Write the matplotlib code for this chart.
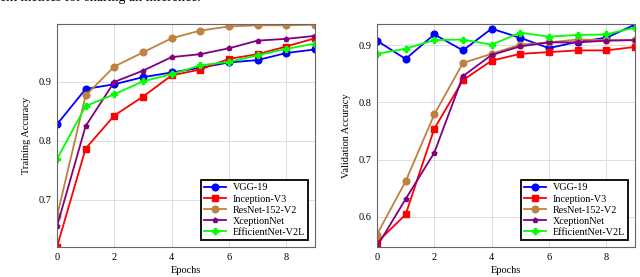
import numpy as np
import matplotlib.pyplot as plt

plt.rcParams['font.family'] = ['Liberation Serif', 'DejaVu Serif']

epochs = list(range(10))
models = ['VGG-19', 'Inception-V3', 'ResNet-152-V2', 'XceptionNet', 'EfficientNet-V2L']

# 训练准确率
train_vgg = [0.828, 0.888, 0.896, 0.908, 0.916, 0.924, 0.933, 0.937, 0.949, 0.955]
train_inc = [0.620, 0.787, 0.843, 0.875, 0.911, 0.921, 0.939, 0.947, 0.960, 0.974]
train_res = [0.672, 0.877, 0.926, 0.950, 0.974, 0.987, 0.994, 0.996, 0.996, 0.997]
train_xce = [0.655, 0.825, 0.900, 0.919, 0.942, 0.947, 0.957, 0.970, 0.973, 0.978]
train_eff = [0.769, 0.859, 0.879, 0.901, 0.913, 0.928, 0.934, 0.945, 0.956, 0.965]

# 验证准确率
val_vgg = [0.908, 0.876, 0.919, 0.891, 0.929, 0.913, 0.895, 0.906, 0.913, 0.936]
val_inc = [0.555, 0.604, 0.754, 0.839, 0.873, 0.885, 0.888, 0.891, 0.891, 0.897]
val_res = [0.569, 0.662, 0.779, 0.869, 0.885, 0.901, 0.905, 0.910, 0.909, 0.909]
val_xce = [0.548, 0.631, 0.712, 0.846, 0.883, 0.898, 0.905, 0.905, 0.908, 0.909]
val_eff = [0.885, 0.894, 0.909, 0.910, 0.901, 0.922, 0.915, 0.918, 0.919, 0.931]

colors = ['#0000ff', '#ff0000', '#bf8040', '#800080', '#00ff00']
markers = ['o', 's', 'o', 'p', 'P']
msizes = [4.8, 4.8, 4.8, 3.5, 4.3]

fig = plt.figure(figsize=(6.4, 2.77), dpi=100)
# 上方被截断的正文行
fig.text(0.0, 0.995, 'ent metrics for sharing an inference.', fontsize=10,
         va='baseline', ha='left')

ax1 = fig.add_axes([0.089, 0.108, 0.403, 0.805])
ax2 = fig.add_axes([0.589, 0.108, 0.403, 0.805])


def draw(ax, series, ylabel, ylim, yticks):
    for name, vals, c, m, ms in zip(models, series, colors, markers, msizes):
        ax.plot(epochs, vals, color=c, marker=m, markersize=ms, linewidth=1.3, label=name)
    ax.set_xlim(0, 9)
    ax.set_ylim(*ylim)
    ax.set_xticks([0, 2, 4, 6, 8])
    ax.set_yticks(yticks)
    ax.grid(True, color='#dddddd', linewidth=0.7)
    ax.set_axisbelow(True)
    for s in ax.spines.values():
        s.set_color('#666666')
        s.set_linewidth(0.8)
    ax.tick_params(labelsize=7.5, length=0, pad=4)
    ax.set_xlabel('Epochs', fontsize=7.5, labelpad=3)
    ax.set_ylabel(ylabel, fontsize=7.5, labelpad=5)
    leg = ax.legend(loc='lower right', fontsize=7.3, fancybox=False, framealpha=1,
                    edgecolor='black', handlelength=2.2, borderpad=0.3, labelspacing=0.2,
                    handletextpad=0.6, borderaxespad=0.7)
    leg.get_frame().set_linewidth(1.3)


draw(ax1, [train_vgg, train_inc, train_res, train_xce, train_eff], 'Training Accuracy',
     (0.62, 0.998), [0.7, 0.8, 0.9])
draw(ax2, [val_vgg, val_inc, val_res, val_xce, val_eff], 'Validation Accuracy',
     (0.547, 0.937), [0.6, 0.7, 0.8, 0.9])

fig.savefig('out.png', dpi=100)
